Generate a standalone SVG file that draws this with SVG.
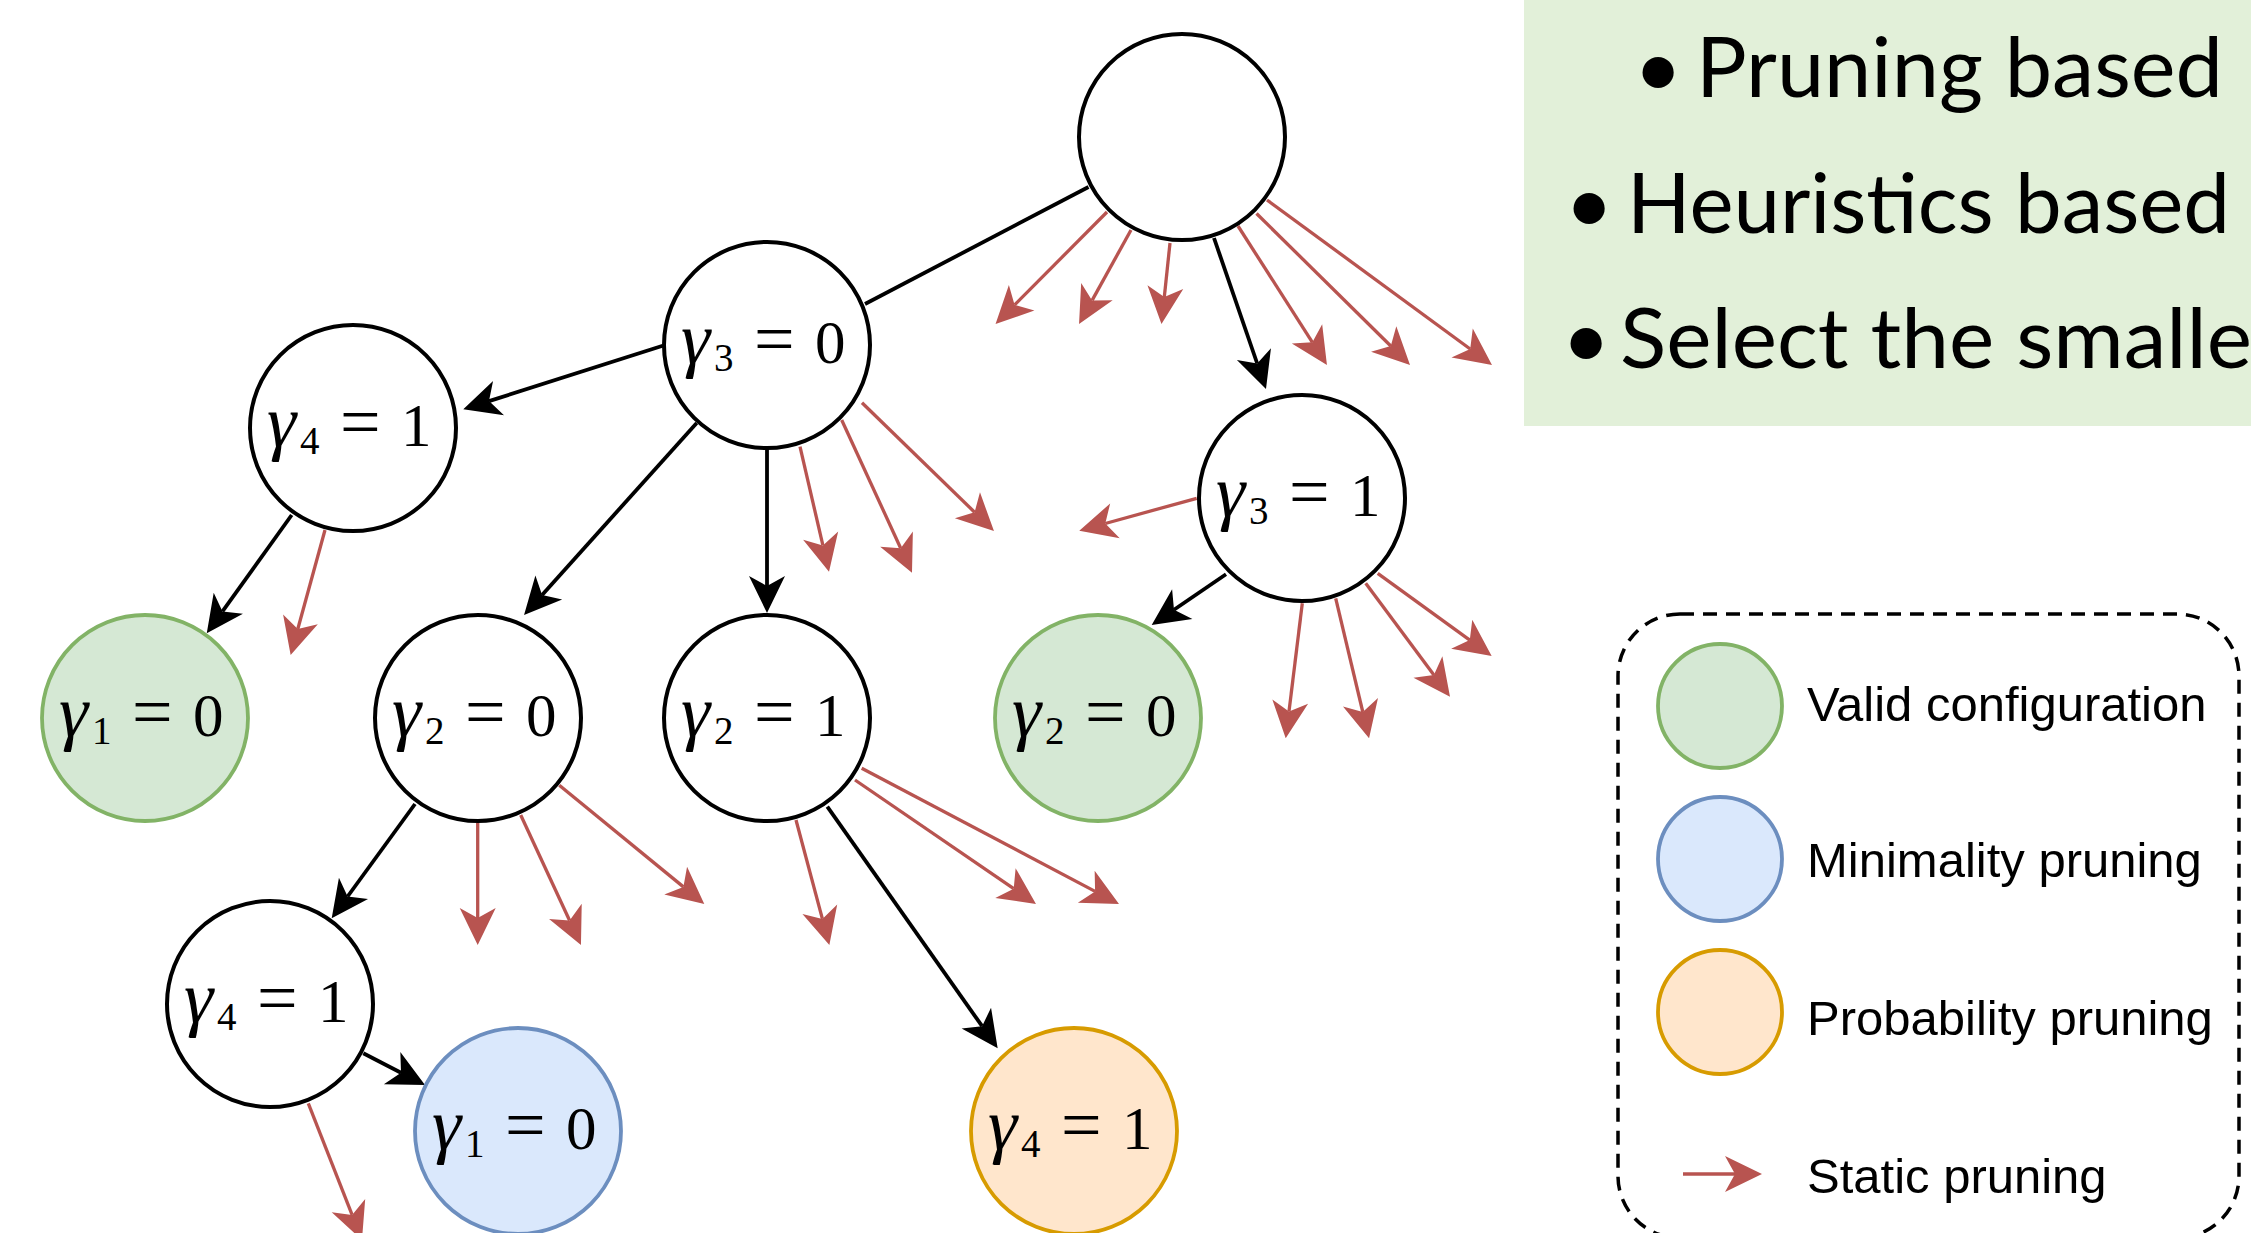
<svg xmlns="http://www.w3.org/2000/svg" width="2251" height="1233" viewBox="0 0 2251 1233">
<defs>
<style>
.node{fill:#ffffff;stroke:#000000;stroke-width:4}
.valid{fill:#d5e8d4;stroke:#82b366;stroke-width:3.8}
.mini{fill:#dae8fc;stroke:#6c8ebf;stroke-width:3.8}
.prob{fill:#ffe6cc;stroke:#d79b00;stroke-width:3.8}
.m{font-family:"Liberation Serif","DejaVu Serif",serif;font-size:61px;fill:#000}
.g{font-style:italic;font-size:74px}
.s{font-size:39px}
.eq{font-size:72px}
.blk{stroke:#000;stroke-width:3.8;fill:none;marker-end:url(#ab)}
.red{stroke:#b85450;stroke-width:3.3;fill:none;marker-end:url(#ar)}
.leg{font-family:"Liberation Sans",Arial,sans-serif;font-size:49px;fill:#000}
.bul{font-family:Lato,"Open Sans",sans-serif;font-size:84px;fill:#000}
</style>
<marker id="ab" markerUnits="userSpaceOnUse" markerWidth="42" markerHeight="40" refX="12" refY="20" orient="auto">
<path d="M39,20 L2,2 L12,20 L2,38 Z" fill="#000"/>
</marker>
<marker id="ar" markerUnits="userSpaceOnUse" markerWidth="42" markerHeight="40" refX="12" refY="20" orient="auto">
<path d="M39,20 L2,2 L12,20 L2,38 Z" fill="#b85450"/>
</marker>
</defs>
<rect width="2251" height="1233" fill="#ffffff"/>

<g id="textbox">
<rect x="1524" y="0" width="727" height="426" fill="#e2f0d9"/>
<text class="bul" x="1658" y="97" text-anchor="middle">•</text>
<text class="bul" x="1696" y="97" textLength="527" lengthAdjust="spacingAndGlyphs">Pruning based</text>
<text class="bul" x="1589" y="233" text-anchor="middle">•</text>
<text class="bul" x="1627" y="233" textLength="603" lengthAdjust="spacingAndGlyphs">Heuristics based</text>
<text class="bul" x="1586" y="368" text-anchor="middle">•</text>
<text class="bul" x="1620" y="368" textLength="632" lengthAdjust="spacingAndGlyphs">Select the smalle</text>
</g>

<g id="connectors">
<line x1="1088.5" y1="187" x2="865" y2="304" stroke="#000" stroke-width="3.8"/>
<line class="blk" x1="662.7" y1="345.7" x2="489.0" y2="401.1"/>
<line class="blk" x1="696.7" y1="423" x2="542.1" y2="594.9"/>
<line class="blk" x1="767" y1="449" x2="767" y2="586"/>
<line class="blk" x1="1214" y1="238" x2="1257.2" y2="363.5"/>
<line class="blk" x1="291.7" y1="515" x2="222.5" y2="611.4"/>
<line class="blk" x1="1226" y1="574.3" x2="1174.0" y2="609.8"/>
<line class="blk" x1="415" y1="804" x2="347.6" y2="896.5"/>
<line class="blk" x1="827.3" y1="806.7" x2="982.1" y2="1026.2"/>
<line class="blk" x1="363.3" y1="1053.3" x2="401" y2="1072.7"/>

<line class="red" x1="1107" y1="212" x2="1014.6" y2="304.9"/>
<line class="red" x1="1131" y1="230" x2="1092.1" y2="300.4"/>
<line class="red" x1="1170" y1="243" x2="1164.3" y2="297.1"/>
<line class="red" x1="1238" y1="226" x2="1312.4" y2="342.3"/>
<line class="red" x1="1256.5" y1="213.5" x2="1390.8" y2="346"/>
<line class="red" x1="1267" y1="200" x2="1470.2" y2="349"/>
<line class="red" x1="800" y1="446.7" x2="822.9" y2="545.4"/>
<line class="red" x1="841.7" y1="420" x2="900.7" y2="548.2"/>
<line class="red" x1="862" y1="402.7" x2="974.6" y2="512.2"/>
<line class="red" x1="325" y1="530" x2="297.8" y2="629"/>
<line class="red" x1="477.7" y1="822.7" x2="477.7" y2="918"/>
<line class="red" x1="520.7" y1="815" x2="569.6" y2="920.5"/>
<line class="red" x1="559.3" y1="785.3" x2="683.4" y2="886.9"/>
<line class="red" x1="796" y1="820" x2="822.4" y2="918.9"/>
<line class="red" x1="855" y1="780" x2="1013.7" y2="888.7"/>
<line class="red" x1="861.7" y1="768.3" x2="1095.1" y2="891.4"/>
<line class="red" x1="1196.7" y1="498.3" x2="1105.3" y2="523.5"/>
<line class="red" x1="1302.3" y1="603.3" x2="1289" y2="711.5"/>
<line class="red" x1="1335.7" y1="598.3" x2="1362.8" y2="712"/>
<line class="red" x1="1365.7" y1="583.3" x2="1433.9" y2="675"/>
<line class="red" x1="1377.7" y1="573.3" x2="1469.8" y2="640.1"/>
<line class="red" x1="308.3" y1="1103.3" x2="352.1" y2="1214.9"/>
</g>

<g id="root"><circle class="node" cx="1182" cy="137" r="103"/></g>

<g id="n-g3-0"><circle class="node" cx="767" cy="345" r="103"/>
<text class="m" y="363"><tspan class="g" x="681">γ</tspan><tspan class="s" x="714" dy="8">3</tspan><tspan class="eq" x="754" dy="-8">=</tspan><tspan x="815">0</tspan></text></g>

<g id="n-g4-1a"><circle class="node" cx="353" cy="428" r="103"/>
<text class="m" y="446"><tspan class="g" x="267">γ</tspan><tspan class="s" x="300" dy="8">4</tspan><tspan class="eq" x="340" dy="-8">=</tspan><tspan x="401">1</tspan></text></g>

<g id="n-g1-0a"><circle class="valid" cx="145" cy="718" r="103"/>
<text class="m" y="736"><tspan class="g" x="59">γ</tspan><tspan class="s" x="92" dy="8">1</tspan><tspan class="eq" x="132" dy="-8">=</tspan><tspan x="193">0</tspan></text></g>

<g id="n-g2-0a"><circle class="node" cx="478" cy="718" r="103"/>
<text class="m" y="736"><tspan class="g" x="392">γ</tspan><tspan class="s" x="425" dy="8">2</tspan><tspan class="eq" x="465" dy="-8">=</tspan><tspan x="526">0</tspan></text></g>

<g id="n-g2-1"><circle class="node" cx="767" cy="718" r="103"/>
<text class="m" y="736"><tspan class="g" x="681">γ</tspan><tspan class="s" x="714" dy="8">2</tspan><tspan class="eq" x="754" dy="-8">=</tspan><tspan x="815">1</tspan></text></g>

<g id="n-g3-1"><circle class="node" cx="1302" cy="498" r="103"/>
<text class="m" y="516"><tspan class="g" x="1216">γ</tspan><tspan class="s" x="1249" dy="8">3</tspan><tspan class="eq" x="1289" dy="-8">=</tspan><tspan x="1350">1</tspan></text></g>

<g id="n-g2-0b"><circle class="valid" cx="1098" cy="718" r="103"/>
<text class="m" y="736"><tspan class="g" x="1012">γ</tspan><tspan class="s" x="1045" dy="8">2</tspan><tspan class="eq" x="1085" dy="-8">=</tspan><tspan x="1146">0</tspan></text></g>

<g id="n-g4-1b"><circle class="node" cx="270" cy="1004" r="103"/>
<text class="m" y="1022"><tspan class="g" x="184">γ</tspan><tspan class="s" x="217" dy="8">4</tspan><tspan class="eq" x="257" dy="-8">=</tspan><tspan x="318">1</tspan></text></g>

<g id="n-g1-0b"><circle class="mini" cx="518" cy="1131" r="103"/>
<text class="m" y="1149"><tspan class="g" x="432">γ</tspan><tspan class="s" x="465" dy="8">1</tspan><tspan class="eq" x="505" dy="-8">=</tspan><tspan x="566">0</tspan></text></g>

<g id="n-g4-1c"><circle class="prob" cx="1074" cy="1131" r="103"/>
<text class="m" y="1149"><tspan class="g" x="988">γ</tspan><tspan class="s" x="1021" dy="8">4</tspan><tspan class="eq" x="1061" dy="-8">=</tspan><tspan x="1122">1</tspan></text></g>

<g id="legend">
<rect x="1618" y="614" width="621" height="624" rx="62" ry="62" fill="none" stroke="#000" stroke-width="3.5" stroke-dasharray="14 9"/>
<circle class="valid" cx="1720" cy="706" r="62"/>
<text class="leg" x="1807" y="721">Valid configuration</text>
<circle class="mini" cx="1720" cy="859" r="62"/>
<text class="leg" x="1807" y="877">Minimality pruning</text>
<circle class="prob" cx="1720" cy="1012" r="62"/>
<text class="leg" x="1807" y="1035">Probability pruning</text>
<line class="red" x1="1683" y1="1174" x2="1735" y2="1174"/>
<text class="leg" x="1807" y="1193">Static pruning</text>
</g>
</svg>
